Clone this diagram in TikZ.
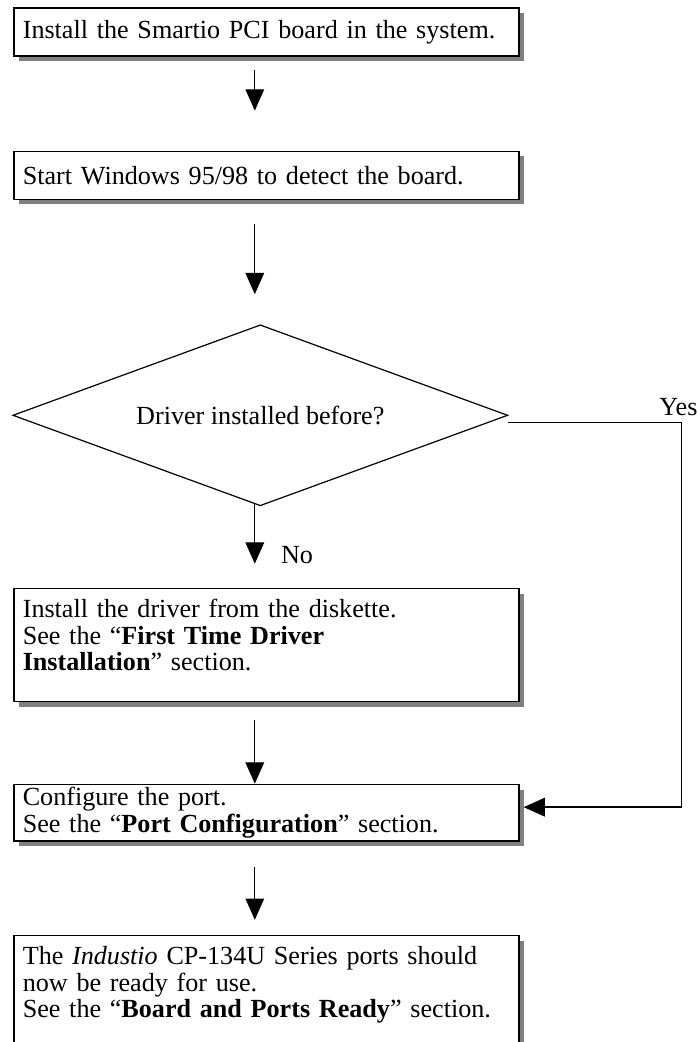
\documentclass[tikz,border=0pt]{standalone}
\usepackage{fontspec}
\setmainfont{Liberation Serif}
\usepackage{xcolor}
\usepackage{tikz}
\usetikzlibrary{arrows.meta,positioning,shapes.geometric,shadows}

\begin{document}
\begin{tikzpicture}[
    font=\fontsize{19.6}{20}\selectfont,
    stepbox/.style={draw, line width=1.2pt, fill=white, align=left, text width=365.25pt, inner xsep=6.75pt, inner ysep=8pt, minimum height=36pt,
        drop shadow={shadow xshift=3.75pt, shadow yshift=-3.75pt, fill=black!50, opacity=1}},
    decision/.style={draw, diamond, aspect=2.735, line width=0.9pt, minimum width=371.25pt, minimum height=135.75pt, inner sep=0pt},
    lbl/.style={inner sep=0pt},
    arrow/.style={-{Triangle[length=16pt,width=14pt]}, line width=0.8pt},
    yesline/.style={-{Triangle[length=16pt,width=14pt]}, line width=1.2pt}
]
    \useasboundingbox (0,0) rectangle (524.25pt,-781.5pt);

    \node[stepbox, anchor=north west] (board) at (9.75pt,-5.25pt) {Install the Smartio PCI board in the system.};
    \node[stepbox, below=70.5pt of board] (detect) {Start Windows 95/98 to detect the board.};
    \node[decision, below=93pt of detect, xshift=-4.5pt] (check) {Driver installed before?};
    \node[stepbox, text depth=55pt, anchor=north west] (driver) at ([yshift=-61pt]check.south -| detect.west) {Install the driver from the diskette.\\
        See the “\textbf{First Time Driver}\\
        \textbf{Installation}” section.};
    \node[stepbox, inner ysep=2pt, minimum height=0pt, below=61pt of driver] (config) {Configure the port.\\
        See the “\textbf{Port Configuration}” section.};
    \node[stepbox, text depth=66pt, below=70pt of config] (ready) {The \textit{Industio} CP-134U Series ports should\\
        now be ready for use.\\
        See the “\textbf{Board and Ports Ready}” section.};

    \coordinate (spine) at ([xshift=-8.625pt]board.south);
    \coordinate (yescol) at ([xshift=129.75pt]check.east);

    \draw[arrow, shorten <=9.75pt, shorten >=30pt] (board.south -| spine) -- (detect.north -| spine);
    \draw[arrow, shorten <=18pt, shorten >=22.5pt] (detect.south -| spine) -- (check.north -| spine);
    \draw[arrow, shorten >=18pt] ([yshift=1.5pt]check.south -| spine) -- (driver.north -| spine);
    \draw[arrow, shorten <=13.5pt] (driver.south -| spine) -- (config.north -| spine);
    \draw[arrow, shorten <=18.75pt, shorten >=11.25pt] (config.south -| spine) -- (ready.north -| spine);
    \draw[yesline] ([yshift=-5.25pt]check.east) -- ([yshift=-5.25pt]yescol) |- ([xshift=3pt,yshift=4.1pt]config.east);

    \node[lbl] (yes) at ([xshift=-2.25pt,yshift=6.5pt]yescol) {Yes};
    \node[lbl, anchor=west] (no) at ([xshift=19.5pt,yshift=24.75pt]driver.north -| spine) {No};
\end{tikzpicture}
\end{document}
